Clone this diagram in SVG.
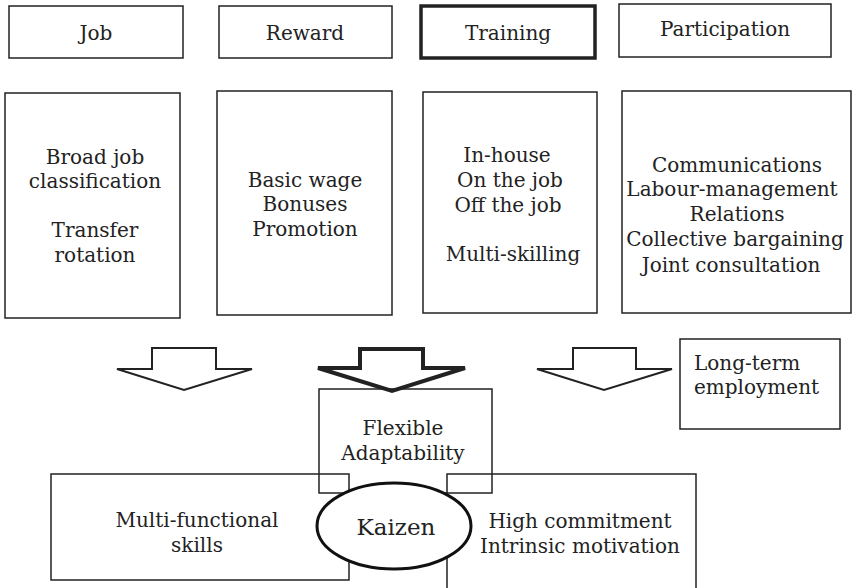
<svg xmlns="http://www.w3.org/2000/svg" width="857" height="588" viewBox="0 0 857 588">
  <style>
    .box { fill: none; stroke: #222; stroke-width: 1.5; }
    .thick { fill: none; stroke: #222; stroke-width: 3.5; }
    .arrow { fill: #fff; stroke: #222; stroke-width: 2; stroke-linejoin: miter; }
    .arrow-bold { fill: #fff; stroke: #222; stroke-width: 4; stroke-linejoin: miter; }
    text { font-family: "DejaVu Serif", "Liberation Serif", serif; font-size: 20px; fill: #222; text-anchor: middle; }
    .left { text-anchor: start; }
    .big { font-size: 23px; }
  </style>
  <rect width="857" height="588" fill="#fff"/>

  <!-- headings -->
  <g id="job">
    <rect class="box" x="9" y="6" width="174" height="52"/>
    <text x="96" y="40">Job</text>
  </g>
  <g id="reward">
    <rect class="box" x="219" y="6" width="173" height="52"/>
    <text x="305" y="40">Reward</text>
  </g>
  <g id="training">
    <rect class="thick" x="421" y="6" width="174" height="52"/>
    <text x="508" y="40">Training</text>
  </g>
  <g id="participation">
    <rect class="box" x="619" y="4" width="212" height="53"/>
    <text x="725" y="36">Participation</text>
  </g>

  <!-- practice boxes -->
  <g id="job-practices">
    <rect class="box" x="5" y="93" width="175" height="225"/>
    <text x="95" y="164">Broad job</text>
    <text x="95" y="188">classification</text>
    <text x="95" y="237">Transfer</text>
    <text x="95" y="262">rotation</text>
  </g>
  <g id="reward-practices">
    <rect class="box" x="217" y="91" width="175" height="224"/>
    <text x="305" y="187">Basic wage</text>
    <text x="305" y="211">Bonuses</text>
    <text x="305" y="236">Promotion</text>
  </g>
  <g id="training-practices">
    <rect class="box" x="423" y="92" width="174" height="221"/>
    <text x="507" y="162">In-house</text>
    <text x="510" y="187">On the job</text>
    <text x="508" y="212">Off the job</text>
    <text x="513" y="261">Multi-skilling</text>
  </g>
  <g id="participation-practices">
    <rect class="box" x="622" y="91" width="229" height="222"/>
    <text x="737" y="172">Communications</text>
    <text x="732" y="196">Labour-management</text>
    <text x="737" y="221">Relations</text>
    <text x="735" y="246">Collective bargaining</text>
    <text x="731" y="272">Joint consultation</text>
  </g>

  <!-- block arrows -->
  <g id="connectors">
    <polygon class="arrow" points="152,348 216,348 216,369 252,369 184,390 117,369 152,369"/>
    <polygon class="arrow-bold" points="360,349 423,349 423,368 465,368 392,391 318,368 360,368"/>
    <polygon class="arrow" points="573,348 636,348 636,369 672,369 604,390 537,369 573,369"/>
  </g>

  <g id="long-term-employment">
    <rect class="box" x="680" y="339" width="160" height="90"/>
    <text class="left" x="694" y="370">Long-term</text>
    <text class="left" x="694" y="394">employment</text>
  </g>

  <g id="flexible-adaptability">
    <rect class="box" x="319" y="389" width="173" height="104"/>
    <text x="403" y="435">Flexible</text>
    <text x="403" y="460">Adaptability</text>
  </g>

  <g id="multi-functional-skills">
    <rect class="box" x="51" y="474" width="298" height="106"/>
    <text x="197" y="527">Multi-functional</text>
    <text x="197" y="552">skills</text>
  </g>

  <g id="high-commitment">
    <rect class="box" x="447" y="474" width="249" height="120"/>
    <text x="580" y="528">High commitment</text>
    <text x="580" y="553">Intrinsic motivation</text>
  </g>

  <g id="kaizen">
    <ellipse cx="394" cy="526" rx="77" ry="43" fill="#fff" stroke="#111" stroke-width="3"/>
    <text class="big" x="396" y="535">Kaizen</text>
  </g>
</svg>
